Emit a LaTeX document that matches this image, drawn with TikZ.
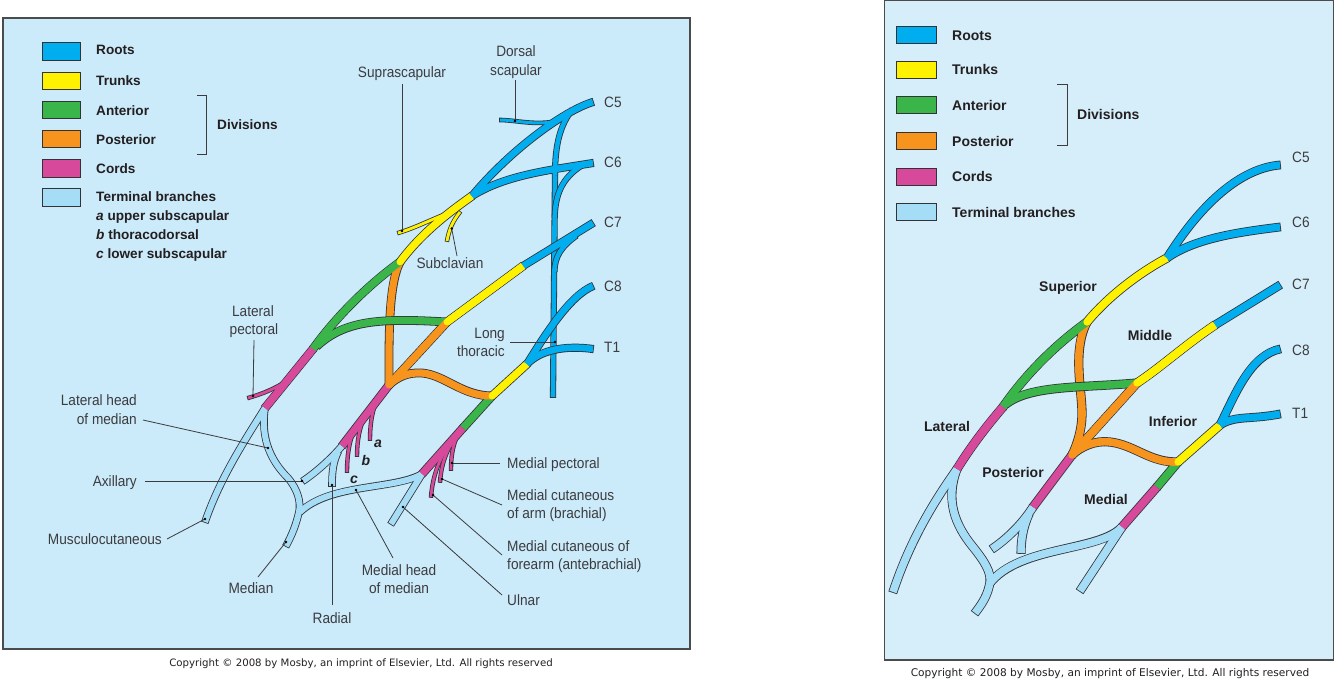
\documentclass[tikz,border=0pt]{standalone}
\usepackage{fontspec}
\setmainfont{Liberation Sans}
\newfontfamily\lblfont[FakeStretch=0.91]{Liberation Sans}
\newfontfamily\cpfont{DejaVu Sans}
\definecolor{rootc}{RGB}{0,174,239}
\definecolor{trunkc}{RGB}{255,242,0}
\definecolor{antc}{RGB}{57,181,74}
\definecolor{postc}{RGB}{247,148,29}
\definecolor{cordc}{RGB}{214,73,155}
\definecolor{termc}{RGB}{165,220,246}
\definecolor{bgL}{RGB}{203,234,250}
\definecolor{bgR}{RGB}{214,238,250}
\definecolor{olc}{RGB}{50,50,55}
\definecolor{txtc}{RGB}{35,31,32}
\definecolor{lblc}{RGB}{60,60,62}
\definecolor{boxc}{RGB}{75,75,75}
\tikzset{
 nerveout/.style={draw=olc,line cap=butt,line join=round,shorten <=-0.8pt,shorten >=-0.8pt},
 nervefill/.style={line cap=butt,line join=round},
 noend/.style={shorten >=0pt},
 ptr/.style={draw=lblc,line width=0.8pt},
 pdot/.style={fill=black},
 panel/.style={draw=boxc,line width=1.4pt},
 swL/.style={draw=olc,line width=0.9pt,minimum width=38pt,minimum height=17.5pt,inner sep=0pt},
 swR/.style={draw=olc,line width=0.9pt,minimum width=40pt,minimum height=17pt,inner sep=0pt},
 legL/.style={font=\fontsize{13.6}{16}\selectfont\bfseries,text=txtc,anchor=west,inner sep=0pt,text height=9.8pt,text depth=0pt},
 legR/.style={font=\fontsize{14}{16}\selectfont\bfseries,text=txtc,anchor=west,inner sep=0pt,text height=10pt,text depth=0pt},
 lbl/.style={font=\lblfont\fontsize{15}{18}\selectfont,text=lblc,inner sep=0pt,text height=10.8pt,text depth=0pt},
 lblB/.style={font=\fontsize{14}{16}\selectfont\bfseries,text=txtc,inner sep=0pt,text height=10pt,text depth=0pt},
 abc/.style={font=\fontsize{14}{16}\selectfont\bfseries\itshape,text=txtc,inner sep=0pt,text height=10pt,text depth=0pt},
 cp/.style={font=\cpfont\fontsize{10.2}{12}\selectfont,text=txtc,inner sep=0pt,text height=7.4pt,text depth=0pt},
}
\newcommand\nvO[4][]{\draw[nerveout,line width=#3+1.6,#1] #4;}
\newcommand\nvF[4][]{\draw[nervefill,draw=#2,line width=#3,#1] #4;}
\newcommand\nv{}
\newcommand\ptrline[3]{\coordinate (#1s) at (#2); \coordinate (#1e) at (#3); \draw[ptr] (#1s) -- (#1e); \fill[pdot] (#1e) circle (1.3);}

% ---------- left panel nerves ----------
\newcommand\LeftLT{\nv{rootc}{4.6}{(555,175) -- (553,397)}}
\newcommand\LeftMain{%
 \nv{rootc}{3}{(552,122) .. controls (532,125) and (515,120) .. (500,120)}%
 \nv[noend]{rootc}{4.6}{(572,110) .. controls (560,125) and (555,145) .. (555,175)}%
 \nv[noend]{rootc}{4.6}{(581,166) .. controls (562,178) and (555,195) .. (554.7,218)}%
 \nv[noend]{rootc}{4.6}{(576,236) .. controls (562,246) and (554.5,256) .. (554.4,272)}%
 \nv{trunkc}{2.8}{(453,211) .. controls (430,220) and (415,228) .. (398,233)}%
 \nv{trunkc}{2.8}{(460,212) .. controls (452,222) and (449,230) .. (447,241)}%
 \nv{cordc}{2.8}{(288,380) .. controls (275,389) and (262,394) .. (248,398)}%
 \nv{cordc}{2.8}{(376,402) .. controls (371,415) and (370,428) .. (370,440)}%
 \nv{cordc}{2.8}{(365,416) .. controls (359,428) and (357,442) .. (357,456)}%
 \nv{cordc}{2.8}{(354,430) .. controls (349,442) and (347,456) .. (347,472)}%
 \nv{cordc}{2.8}{(458,434) .. controls (452,447) and (451,458) .. (451,470)}%
 \nv{cordc}{2.8}{(451,444) .. controls (444,457) and (441,468) .. (440,482)}%
 \nv{cordc}{2.8}{(444,453) .. controls (436,467) and (432,482) .. (431,497)}%
 \nv{termc}{6}{(265,408) .. controls (245,440) and (220,478) .. (205,522)}%
 \nv{termc}{6}{(265,408) .. controls (260,440) and (272,462) .. (288,478) .. controls (298,490) and (301,502) .. (299,512) .. controls (296,525) and (292,535) .. (286,546)}%
 \nv{termc}{6}{(422,474) .. controls (395,490) and (330,483) .. (300,512)}%
 \nv{termc}{6}{(422,474) -- (391,524)}%
 \nv{termc}{6}{(342,446) .. controls (330,460) and (315,473) .. (303,481)}%
 \nv{termc}{6}{(338,452) .. controls (333,462) and (332,472) .. (332,486)}%
 \nv{cordc}{7.2}{(313,349) -- (265,408)}%
 \nv{cordc}{7.2}{(389,385) -- (342,446)}%
 \nv{cordc}{7.2}{(463,428) -- (422,474)}%
 \nv{antc}{7.2}{(400,262) .. controls (368,285) and (335,318) .. (313,349)}%
 \nv{postc}{7.2}{(400,262) .. controls (388,285) and (389,340) .. (389,385)}%
 \nv{postc}{7.2}{(447,322) -- (389,385)}%
 \nv{antc}{7.2}{(492,396) -- (463,428)}%
 \nv{postc}{7.2}{(492,396) .. controls (462,396) and (445,375) .. (422,373) .. controls (407,372) and (396,378) .. (389,385)}%
 \nv{trunkc}{7.2}{(472,196) .. controls (445,215) and (420,235) .. (400,262)}%
 \nv{trunkc}{7.2}{(523,266) -- (447,322)}%
 \nv{trunkc}{7.2}{(527,364) -- (492,396)}%
 \nv{rootc}{6.5}{(593,102) .. controls (565,110) and (510,150) .. (472,196)}%
 \nv{rootc}{6.5}{(593,163) .. controls (550,170) and (505,175) .. (472,196)}%
 \nv{rootc}{6.5}{(593,223) -- (523,266)}%
 \nv{rootc}{6.5}{(593,286) .. controls (570,295) and (545,335) .. (527,364)}%
 \nv{rootc}{6.5}{(593,349) .. controls (565,345) and (540,350) .. (527,364)}%
}
\newcommand\LeftGreen{\nv{antc}{7.2}{(447,322) .. controls (380,318) and (345,320) .. (317,346)}}
\newcommand\LeftRefill{%
 \nvF{antc}{7.2}{(400,262) .. controls (368,285) and (335,318) .. (313,349)}%
 \nvF{cordc}{7.2}{(313,349) -- (265,408)}%
 \nvF{postc}{7.2}{(447,322) -- (389,385)}%
 \nvF{trunkc}{7.2}{(523,266) -- (447,322)}%
 \fill[trunkc] (400,262) circle (3.4);
 \fill[trunkc] (447,322) circle (3.4);
 \fill[trunkc] (492,396) circle (3.4);
 \fill[postc] (389,385) circle (3.4);
}
% ---------- right panel nerves ----------
\newcommand\RightMain{%
 \nv{termc}{7.5}{(957,469) .. controls (935,500) and (910,540) .. (893,592)}%
 \nv{termc}{7.5}{(957,469) .. controls (945,500) and (955,525) .. (973,547) .. controls (985,562) and (991,572) .. (990,582) .. controls (988,595) and (982,604) .. (975,613)}%
 \nv{termc}{7.5}{(1122,527) .. controls (1100,552) and (1020,545) .. (990,583)}%
 \nv{termc}{7.5}{(1122,527) -- (1080,591)}%
 \nv{termc}{7.5}{(1033,507) .. controls (1025,520) and (1010,537) .. (992,549)}%
 \nv{termc}{7.5}{(1029,514) .. controls (1023,527) and (1021,540) .. (1021,553)}%
 \nv{cordc}{7.6}{(1003,407) .. controls (985,428) and (970,448) .. (957,469)}%
 \nv{cordc}{7.6}{(1072,455) -- (1033,507)}%
 \nv{cordc}{7.6}{(1157,487) -- (1122,527)}%
 \nv{antc}{7.6}{(1087,322) .. controls (1055,345) and (1025,375) .. (1003,407)}%
 \nv{postc}{7.6}{(1087,322) .. controls (1072,350) and (1082,390) .. (1082,413) .. controls (1082,430) and (1077,445) .. (1072,455)}%
 \nv{postc}{7.6}{(1137,383) -- (1072,455)}%
 \nv{antc}{7.6}{(1178,462) -- (1157,487)}%
 \nv{postc}{7.6}{(1178,462) .. controls (1150,463) and (1135,445) .. (1110,442) .. controls (1095,440) and (1080,447) .. (1072,455)}%
 \nv{trunkc}{7.6}{(1167,258) .. controls (1135,275) and (1105,300) .. (1087,322)}%
 \nv{trunkc}{7.6}{(1215,325) .. controls (1185,345) and (1160,368) .. (1137,383)}%
 \nv{trunkc}{7.6}{(1220,425) -- (1178,462)}%
 \nv{rootc}{7.2}{(1280,165) .. controls (1240,168) and (1200,205) .. (1167,258)}%
 \nv{rootc}{7.2}{(1280,227) .. controls (1240,232) and (1195,238) .. (1167,258)}%
 \nv{rootc}{7.2}{(1280,285) -- (1215,325)}%
 \nv{rootc}{7.2}{(1280,349) .. controls (1250,355) and (1235,395) .. (1220,425)}%
 \nv{rootc}{7.2}{(1280,414) .. controls (1250,420) and (1235,415) .. (1220,425)}%
}
\newcommand\RightGreen{\nv{antc}{7.6}{(1137,383) .. controls (1080,388) and (1030,385) .. (1006,404)}}
\newcommand\RightRefill{%
 \nvF{antc}{7.6}{(1087,322) .. controls (1055,345) and (1025,375) .. (1003,407)}%
 \nvF{cordc}{7.6}{(1003,407) .. controls (985,428) and (970,448) .. (957,469)}%
 \nvF{postc}{7.6}{(1137,383) -- (1072,455)}%
 \nvF{trunkc}{7.6}{(1215,325) .. controls (1185,345) and (1160,368) .. (1137,383)}%
 \fill[trunkc] (1087,322) circle (3.6);
 \fill[trunkc] (1137,383) circle (3.6);
 \fill[trunkc] (1178,462) circle (3.6);
 \fill[postc] (1072,455) circle (3.6);
}

\begin{document}
\begin{tikzpicture}[x=1pt,y=-1pt]
\useasboundingbox (0,0) rectangle (1334,679);
\fill[white] (0,0) rectangle (1334,679);
\draw[panel,fill=bgL] (3,18) rectangle (690,649);
\draw[panel,fill=bgR,line width=1.1pt] (884.5,0.8) rectangle (1333.3,660);

% left nerves
\renewcommand\nv{\nvO}\LeftLT \renewcommand\nv{\nvF}\LeftLT
\renewcommand\nv{\nvO}\LeftMain \renewcommand\nv{\nvF}\LeftMain
\renewcommand\nv{\nvO}\LeftGreen \renewcommand\nv{\nvF}\LeftGreen
\LeftRefill
% right nerves
\renewcommand\nv{\nvO}\RightMain \renewcommand\nv{\nvF}\RightMain
\renewcommand\nv{\nvO}\RightGreen \renewcommand\nv{\nvF}\RightGreen
\RightRefill

% ---------- left legend ----------
\node[swL,fill=rootc]  (sL1) at (61.7,51.7) {};
\node[swL,fill=trunkc] (sL2) at (61.7,80.8) {};
\node[swL,fill=antc]   (sL3) at (61.7,110) {};
\node[swL,fill=postc]  (sL4) at (61.7,139.2) {};
\node[swL,fill=cordc]  (sL5) at (61.7,168.3) {};
\node[swL,fill=termc]  (sL6) at (61.7,197.5) {};
\node[legL] (lL1) at (96,50) {Roots};
\node[legL] (lL2) at (96,81) {Trunks};
\node[legL] (lL3) at (96,110.5) {Anterior};
\node[legL] (lL4) at (96,139.3) {Posterior};
\node[legL] (lL5) at (96,169) {Cords};
\node[legL] (lL6) at (96,197) {Terminal branches};
\node[legL] (lL7) at (96,216) {\textit{a} upper subscapular};
\node[legL] (lL8) at (96,234.5) {\textit{b} thoracodorsal};
\node[legL] (lL9) at (96,253.3) {\textit{c} lower subscapular};
\draw[draw=lblc,line width=0.9pt] (197,95) -- (206.5,95) -- (206.5,154) -- (197,154);
\node[legL] (lDiv) at (217,125) {Divisions};

% ---------- left labels ----------
\node[lbl] (tSup) at (402,72) {Suprascapular};
\node[lbl] (tDor1) at (516,51) {Dorsal};
\node[lbl] (tDor2) at (516,70) {scapular};
\node[lbl] (tSub) at (450,263) {Subclavian};
\node[lbl] (tLp1) at (253,311) {Lateral};
\node[lbl] (tLp2) at (254,329) {pectoral};
\node[lbl,anchor=east] (tLh1) at (137,400) {Lateral head};
\node[lbl,anchor=east] (tLh2) at (137,419) {of median};
\node[lbl,anchor=east] (tAx) at (137,481) {Axillary};
\node[lbl,anchor=east] (tMu) at (162,539) {Musculocutaneous};
\node[lbl] (tMe) at (251,588) {Median};
\node[lbl] (tRa) at (332,618) {Radial};
\node[lbl] (tMh1) at (399,570) {Medial head};
\node[lbl] (tMh2) at (399,588) {of median};
\node[lbl,anchor=west] (tUl) at (507,600) {Ulnar};
\node[lbl,anchor=west] (tMp) at (507,463) {Medial pectoral};
\node[lbl,anchor=west] (tMa1) at (507,495) {Medial cutaneous};
\node[lbl,anchor=west] (tMa2) at (507,513) {of arm (brachial)};
\node[lbl,anchor=west] (tMf1) at (507,546) {Medial cutaneous of};
\node[lbl,anchor=west] (tMf2) at (507,564) {forearm (antebrachial)};
\node[lbl,anchor=east] (tLt1) at (505,333) {Long};
\node[lbl,anchor=east] (tLt2) at (505,351) {thoracic};
\node[lbl,anchor=west] (tC5) at (604,102) {C5};
\node[lbl,anchor=west] (tC6) at (604,162) {C6};
\node[lbl,anchor=west] (tC7) at (604,222) {C7};
\node[lbl,anchor=west] (tC8) at (604,286) {C8};
\node[lbl,anchor=west] (tT1) at (604,347) {T1};
\node[abc] (ta) at (378,442) {a};
\node[abc] (tb) at (366,460) {b};
\node[abc] (tc) at (354,478) {c};

% ---------- left pointers ----------
\ptrline{sup}{402,84}{402,231}
\ptrline{dor}{515,80}{515,121}
\ptrline{sub}{457,256}{451.7,228.5}
\ptrline{lpec}{254,340}{253,396}
\ptrline{lhm}{143,420}{268,448}
\ptrline{axi}{145,481}{302,481}
\ptrline{mus}{167,539}{205,519}
\ptrline{med}{258,577}{286,542}
\ptrline{rad}{332,605}{332,485}
\ptrline{mhm}{393,558}{356,490}
\ptrline{uln}{502,595}{403,507}
\ptrline{mpec}{500,463}{452,463}
\ptrline{mca}{502,505}{442,479}
\ptrline{mcf}{502,555}{433,495}
\ptrline{lth}{510,342}{555,342}

\node[cp] (cpL) at (361,662.5) {Copyright \textcopyright\ 2008 by Mosby, an imprint of Elsevier, Ltd. All rights reserved};

% ---------- right legend ----------
\node[swR,fill=rootc]  (sR1) at (916,34.6) {};
\node[swR,fill=trunkc] (sR2) at (916,69.7) {};
\node[swR,fill=antc]   (sR3) at (916,105.4) {};
\node[swR,fill=postc]  (sR4) at (916,141) {};
\node[swR,fill=cordc]  (sR5) at (916,176.6) {};
\node[swR,fill=termc]  (sR6) at (916,212) {};
\node[legR] (lR1) at (952,35.5) {Roots};
\node[legR] (lR2) at (952,69.5) {Trunks};
\node[legR] (lR3) at (952,106) {Anterior};
\node[legR] (lR4) at (952,141.5) {Posterior};
\node[legR] (lR5) at (952,176.6) {Cords};
\node[legR] (lR6) at (952,213) {Terminal branches};
\draw[draw=lblc,line width=0.9pt] (1057,84.4) -- (1067,84.4) -- (1067,145.5) -- (1057,145.5);
\node[legR] (lRDiv) at (1077,115) {Divisions};

% ---------- right labels ----------
\node[lblB] (rSup) at (1068,286) {Superior};
\node[lblB] (rMid) at (1150,335) {Middle};
\node[lblB] (rInf) at (1173,421) {Inferior};
\node[lblB] (rLat) at (947,426) {Lateral};
\node[lblB] (rPos) at (1013,472) {Posterior};
\node[lblB] (rMed) at (1106,499) {Medial};
\node[lbl,anchor=west] (rC5) at (1292,157) {C5};
\node[lbl,anchor=west] (rC6) at (1292,222) {C6};
\node[lbl,anchor=west] (rC7) at (1292,284) {C7};
\node[lbl,anchor=west] (rC8) at (1292,350) {C8};
\node[lbl,anchor=west] (rT1) at (1292,413) {T1};

\node[cp,font=\cpfont\fontsize{10.6}{12}\selectfont] (cpR) at (1110,673) {Copyright \textcopyright\ 2008 by Mosby, an imprint of Elsevier, Ltd. All rights reserved};
\end{tikzpicture}
\end{document}
